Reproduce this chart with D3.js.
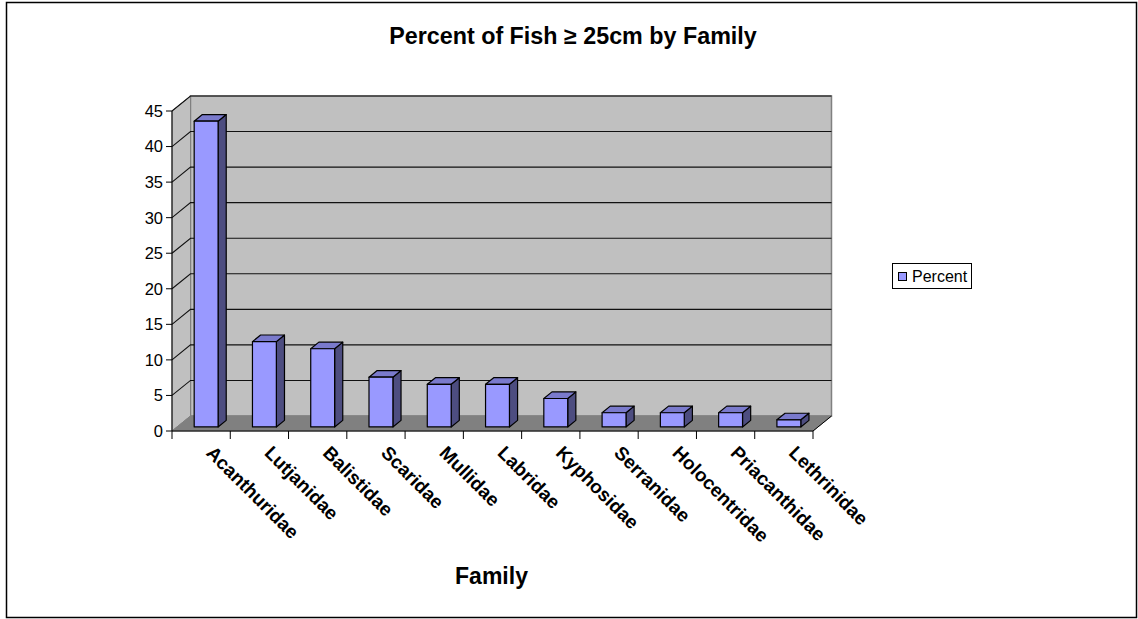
<!DOCTYPE html>
<html>
<head>
<meta charset="utf-8">
<script src="https://cdn.jsdelivr.net/npm/d3@7"></script>
<style>
  html, body { margin: 0; padding: 0; background: #fff; }
  svg { display: block; font-family: "Liberation Sans", Arial, sans-serif; }
</style>
</head>
<body>
<svg id="chart" width="1138" height="619"></svg>
<script>
// Share of fish at or above 25 cm, per family
const families = ["Acanthuridae", "Lutjanidae", "Balistidae", "Scaridae", "Mullidae",
  "Labridae", "Kyphosidae", "Serranidae", "Holocentridae", "Priacanthidae", "Lethrinidae"];
const percent = [43, 12, 11, 7, 6, 6, 4, 2, 2, 2, 1];
const yTicks = [0, 5, 10, 15, 20, 25, 30, 35, 40, 45];
const seriesName = "Percent";
const chartTitle = "Percent of Fish \u2265 25cm by Family";
const xTitle = "Family";

const svg = d3.select("#chart");

// Outer frame
svg.append("rect")
  .attr("x", 6.5).attr("y", 2.5).attr("width", 1130).attr("height", 615)
  .attr("fill", "#fff").attr("stroke", "#000").attr("stroke-width", 1.5);

// Front plane scales and depth offset for the 3-D projection
const x = d3.scaleBand().domain(families).range([172, 813])
  .paddingInner(0.59).paddingOuter(0.295);
const xCat = d3.scaleBand().domain(families).range([172, 813]);
const y = d3.scaleLinear().domain([0, 45]).range([431, 111]);
const DX = 18.5, DY = -15;
const P = (px, py, d) => [px + d * DX, py + d * DY];

const g = svg.append("g");

// Back wall
const [bx0, by0] = P(172, y(45), 1);
const [bx1, by1] = P(813, y(0), 1);
g.append("rect")
  .attr("x", bx0).attr("y", by0).attr("width", bx1 - bx0).attr("height", by1 - by0)
  .attr("fill", "#C0C0C0").attr("stroke", "#808080").attr("stroke-width", 1.5);

// Side wall
const sidePts = [P(172, y(45), 0), P(172, y(45), 1), P(172, y(0), 1), P(172, y(0), 0)];
g.append("polygon")
  .attr("points", sidePts.map(p => p.join(",")).join(" "))
  .attr("fill", "#C0C0C0").attr("stroke", "#808080").attr("stroke-width", 1);

// Floor
const floorPts = [P(172, y(0), 0), P(813, y(0), 0), P(813, y(0), 1), P(172, y(0), 1)];
g.append("polygon")
  .attr("points", floorPts.map(p => p.join(",")).join(" "))
  .attr("fill", "#808080").attr("stroke", "#808080").attr("stroke-width", 1);

// Gridlines on the back and side walls
yTicks.filter(v => v > 0).forEach(v => {
  const a = P(172, y(v), 0), b = P(172, y(v), 1), c = P(813, y(v), 1);
  g.append("polyline")
    .attr("points", [a, b, c].map(p => p.join(",")).join(" "))
    .attr("fill", "none").attr("stroke", "#111").attr("stroke-width", 1.1);
});

// Axes lines
g.append("line").attr("x1", 172).attr("x2", 172).attr("y1", y(45)).attr("y2", y(0))
  .attr("stroke", "#000").attr("stroke-width", 1);
const fr = P(813, y(0), 1);
g.append("polyline")
  .attr("points", [[172, y(0)], [813, y(0)], fr].map(p => p.join(",")).join(" "))
  .attr("fill", "none").attr("stroke", "#000").attr("stroke-width", 1);

// Y ticks and labels
yTicks.forEach(v => {
  g.append("line").attr("x1", 166).attr("x2", 172).attr("y1", y(v)).attr("y2", y(v))
    .attr("stroke", "#000").attr("stroke-width", 1);
  g.append("text").attr("x", 163).attr("y", y(v)).attr("dy", "0.36em")
    .attr("text-anchor", "end").attr("font-size", 16.5).attr("fill", "#000").text(v);
});

// X ticks at category boundaries
const bounds = families.map(f => xCat(f)).concat([813]);
bounds.forEach(bx => {
  g.append("line").attr("x1", bx).attr("x2", bx).attr("y1", y(0)).attr("y2", y(0) + 8)
    .attr("stroke", "#000").attr("stroke-width", 1);
});

// 3-D bars
const D0 = 0.27, D1 = 0.71;
const bars = g.append("g");
families.forEach((f, i) => {
  const v = percent[i];
  const xl = x(f), xr = x(f) + x.bandwidth();
  const fTL = P(xl, y(v), D0), fTR = P(xr, y(v), D0), fBR = P(xr, y(0), D0), fBL = P(xl, y(0), D0);
  const bTL = P(xl, y(v), D1), bTR = P(xr, y(v), D1), bBR = P(xr, y(0), D1);
  const poly = (pts, fill) => bars.append("polygon")
    .attr("points", pts.map(p => p.join(",")).join(" "))
    .attr("fill", fill).attr("stroke", "#000").attr("stroke-width", 1.2)
    .attr("stroke-linejoin", "round");
  poly([fTR, bTR, bBR, fBR], "#4D4D80");
  poly([fTL, bTL, bTR, fTR], "#7A7ACC");
  poly([fTL, fTR, fBR, fBL], "#9999FF");
});

// Category labels, rotated
families.forEach(f => {
  const cx = xCat(f) + xCat.bandwidth() / 2 + 4;
  g.append("text")
    .attr("transform", `translate(${cx},${y(0) + 23}) rotate(45)`)
    .attr("font-size", 19).attr("font-weight", "bold").attr("fill", "#000")
    .text(f);
});

// Titles
svg.append("text").attr("x", 573).attr("y", 44).attr("text-anchor", "middle")
  .attr("font-size", 23.3).attr("font-weight", "bold").text(chartTitle);
svg.append("text").attr("x", 491.5).attr("y", 584).attr("text-anchor", "middle")
  .attr("font-size", 23).attr("font-weight", "bold").text(xTitle);

// Legend
const lg = svg.append("g");
lg.append("rect").attr("x", 892.5).attr("y", 263.5).attr("width", 79).attr("height", 25)
  .attr("fill", "#fff").attr("stroke", "#000").attr("stroke-width", 1);
lg.append("rect").attr("x", 898.5).attr("y", 272.5).attr("width", 8).attr("height", 8)
  .attr("fill", "#9999FF").attr("stroke", "#000").attr("stroke-width", 1);
lg.append("text").attr("x", 912).attr("y", 282).attr("font-size", 16).text(seriesName);
</script>
</body>
</html>
